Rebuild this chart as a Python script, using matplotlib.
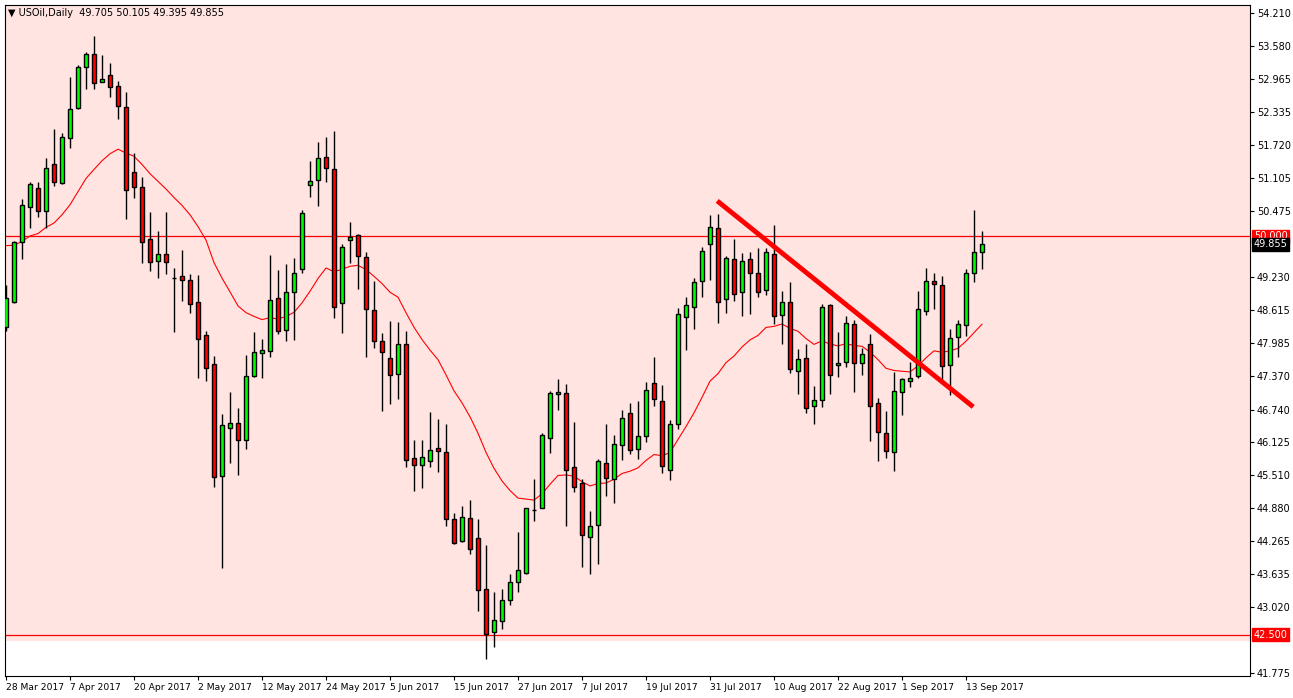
import matplotlib
matplotlib.use("Agg")
import matplotlib.pyplot as plt
import matplotlib.transforms as mtransforms
import numpy as np
import pandas as pd

# -----------------------------
# Daily USOil OHLC, 28 Mar 2017 .. 15 Sep 2017
# -----------------------------
OPENS = [48.29, 48.77, 49.90, 50.56, 50.91, 50.48, 51.37, 51.01, 51.85, 52.42,
         53.19, 53.44, 52.91, 53.04, 52.83, 52.44, 51.21, 50.93, 49.95, 49.54,
         49.67, 49.21, 49.25, 49.18, 48.77, 48.14, 47.60, 45.49, 46.39, 46.49,
         46.17, 47.37, 47.80, 47.84, 48.84, 48.24, 48.95, 49.39, 50.97, 51.06,
         51.50, 51.27, 48.75, 49.93, 50.03, 49.61, 48.61, 48.03, 47.71, 47.41,
         47.97, 45.83, 45.69, 45.77, 46.02, 45.94, 44.68, 44.27, 44.70, 44.32,
         43.36, 42.55, 42.75, 43.15, 43.49, 43.66, 44.85, 44.88, 46.20, 47.03,
         47.05, 45.66, 45.36, 44.34, 44.56, 45.73, 45.43, 46.07, 46.67, 46.00,
         46.24, 47.24, 46.90, 45.60, 46.47, 48.48, 48.67, 49.16, 49.86, 50.16,
         48.82, 49.58, 48.95, 49.58, 49.31, 48.99, 49.67, 48.52, 48.77, 47.46,
         47.71, 46.80, 46.92, 48.71, 47.58, 47.64, 48.35, 47.62, 47.97, 46.86,
         46.30, 45.94, 47.07, 47.28, 47.37, 48.60, 49.16, 49.09, 47.58, 48.11,
         48.33, 49.31, 49.705]
HIGHS = [49.09, 49.92, 50.71, 51.03, 51.03, 51.48, 52.02, 51.95, 53.00, 53.23,
         53.48, 53.78, 53.42, 53.27, 52.93, 52.72, 51.57, 51.12, 50.46, 50.10,
         50.46, 49.41, 49.74, 49.29, 49.27, 48.22, 47.75, 46.65, 47.07, 46.77,
         47.77, 48.20, 48.07, 49.65, 49.37, 49.48, 49.59, 50.50, 51.42, 51.78,
         51.87, 51.99, 49.86, 50.27, 50.05, 49.71, 49.16, 48.18, 48.41, 48.39,
         48.22, 46.17, 46.17, 46.69, 46.56, 46.47, 44.79, 44.92, 45.03, 44.68,
         44.19, 43.30, 43.35, 43.64, 44.43, 44.88, 45.43, 46.30, 47.09, 47.31,
         47.22, 46.50, 45.43, 44.83, 45.81, 46.47, 46.26, 46.73, 46.86, 46.90,
         47.26, 47.73, 47.20, 46.54, 48.65, 48.86, 49.22, 49.80, 50.40, 50.42,
         49.63, 49.95, 49.69, 49.71, 49.78, 49.78, 50.21, 48.97, 49.14, 47.88,
         47.97, 47.18, 48.73, 48.73, 48.20, 48.50, 48.43, 47.90, 48.16, 46.96,
         46.71, 47.45, 47.33, 47.63, 48.97, 49.41, 49.31, 49.25, 48.26, 48.43,
         49.39, 50.50, 50.105]
LOWS = [48.22, 48.75, 49.58, 50.16, 50.37, 50.16, 50.95, 50.99, 51.67, 52.40,
        52.78, 52.78, 52.91, 52.63, 52.21, 50.33, 50.72, 49.50, 49.35, 49.21,
        49.29, 48.20, 48.78, 48.56, 47.33, 47.28, 45.28, 43.75, 45.73, 45.51,
        46.00, 47.35, 47.33, 47.73, 48.16, 48.03, 48.05, 49.31, 50.74, 50.57,
        51.03, 48.46, 48.18, 49.50, 49.01, 47.73, 47.90, 46.71, 46.84, 46.94,
        45.66, 45.20, 45.26, 45.66, 45.56, 44.55, 44.20, 44.25, 44.02, 42.94,
        42.04, 42.27, 42.60, 43.05, 43.30, 43.64, 44.64, 44.88, 45.92, 46.73,
        44.55, 45.19, 43.77, 43.64, 43.83, 45.11, 44.98, 45.79, 45.90, 45.81,
        46.13, 46.81, 45.54, 45.41, 46.37, 47.86, 48.26, 48.86, 49.18, 48.37,
        48.56, 48.78, 48.50, 48.54, 48.86, 48.90, 48.35, 47.97, 47.43, 47.03,
        46.67, 46.47, 46.79, 47.03, 47.35, 47.54, 47.07, 47.39, 46.15, 45.77,
        45.83, 45.58, 46.64, 47.16, 47.33, 48.52, 48.63, 47.26, 47.01, 47.73,
        48.12, 49.14, 49.395]
CLOSES = [48.84, 49.90, 50.59, 50.99, 50.48, 51.29, 51.03, 51.87, 52.40, 53.19,
          53.44, 52.89, 52.97, 52.82, 52.46, 50.88, 50.93, 49.90, 49.52, 49.67,
          49.52, 49.21, 49.18, 48.73, 48.07, 47.52, 45.47, 46.45, 46.49, 46.17,
          47.37, 47.82, 47.86, 48.80, 48.22, 48.95, 49.31, 50.44, 51.05, 51.48,
          51.29, 48.67, 49.80, 49.99, 49.63, 48.63, 48.03, 47.82, 47.39, 47.97,
          45.79, 45.69, 45.85, 45.98, 45.96, 44.68, 44.23, 44.72, 44.11, 43.34,
          42.51, 42.77, 43.15, 43.49, 43.72, 44.88, 44.85, 46.26, 47.05, 47.07,
          45.60, 45.28, 44.38, 44.55, 45.77, 45.45, 46.09, 46.58, 45.98, 46.24,
          47.11, 46.94, 45.68, 46.47, 48.54, 48.71, 49.14, 49.73, 50.18, 48.77,
          49.59, 48.92, 49.54, 49.31, 48.95, 49.71, 48.50, 48.77, 47.50, 47.69,
          46.77, 46.92, 48.67, 47.39, 47.62, 48.37, 47.62, 47.79, 46.80, 46.32,
          45.96, 47.09, 47.32, 47.33, 48.63, 49.16, 49.10, 47.56, 48.09, 48.35,
          49.31, 49.71, 49.855]
# closes before 28 Mar, only needed to warm up the moving average
PRE_CLOSES = [49.5, 49.3, 49.4, 49.5, 49.4, 49.3, 49.4, 49.3, 49.4, 49.4,
              50.8, 51.0, 51.1, 50.9]
MA_SPAN = 20

DATE_LABELS = ["28 Mar 2017", "7 Apr 2017", "20 Apr 2017", "2 May 2017", "12 May 2017",
               "24 May 2017", "5 Jun 2017", "15 Jun 2017", "27 Jun 2017", "7 Jul 2017",
               "19 Jul 2017", "31 Jul 2017", "10 Aug 2017", "22 Aug 2017", "1 Sep 2017",
               "13 Sep 2017"]
DATE_BARS = [0, 8, 16, 24, 32, 40, 48, 56, 64, 72, 80, 88, 96, 104, 112, 120]

PRICE_TICKS = [54.210, 53.580, 52.965, 52.335, 51.720, 51.105, 50.475, 49.230,
               48.615, 47.985, 47.370, 46.740, 46.125, 45.510, 44.880, 44.265,
               43.635, 43.020, 41.775]
LEVELS = [50.000, 42.500]
ZONE_BOTTOM = 42.38
TREND_X = [88.9, 120.9]
TREND_Y = [50.67, 46.79]

PINK = "#FFE4E1"
UP = "#00FF00"
DOWN = "#FF0000"

o = np.array(OPENS); h = np.array(HIGHS); l = np.array(LOWS); c = np.array(CLOSES)
n = len(c)
idx = np.arange(n)
allc = pd.Series(np.concatenate([PRE_CLOSES, c]))
ma = allc.ewm(span=MA_SPAN, adjust=False).mean().to_numpy()[len(PRE_CLOSES):]

fig = plt.figure(figsize=(12.93, 6.98), dpi=100)
ax = fig.add_axes([5 / 1293, 1 - 676 / 698, 1245 / 1293, 671 / 698])
ax.set_xlim(-0.125, 155.5)
ax.set_ylim(41.72, 54.36)
ax.axhspan(ZONE_BOTTOM, 60, color=PINK, zorder=0, lw=0)

ax.plot(idx, ma, color="red", lw=0.8, zorder=2)
for lv in LEVELS:
    ax.axhline(lv, color="red", lw=0.9, zorder=1)

ax.vlines(idx, l, h, color="black", lw=1.0, zorder=3)
up = c >= o
bottoms = np.minimum(o, c)
heights = np.abs(c - o)
ax.bar(idx, heights, 0.62, bottom=bottoms, color=np.where(up, UP, DOWN),
       edgecolor="black", linewidth=1.0, zorder=4)

ax.plot(TREND_X, TREND_Y, color="red", lw=3.5, solid_capstyle="butt", zorder=5)

# axes cosmetics
ax.yaxis.tick_right()
ax.set_yticks(PRICE_TICKS)
ax.set_yticklabels([f"{v:.3f}" for v in PRICE_TICKS])
ax.set_xticks(DATE_BARS)
ax.set_xticklabels(DATE_LABELS, ha="left")
ax.tick_params(axis="both", labelsize=7, length=3, width=0.8, direction="out", pad=2)
ax.tick_params(axis="x", labelsize=6.6)
for s in ax.spines.values():
    s.set_linewidth(0.8)

trans = mtransforms.blended_transform_factory(ax.transAxes, ax.transData)
for lv, bg in [(LEVELS[0], "red"), (LEVELS[1], "red"), (c[-1], "black")]:
    ax.text(1.003, lv, f"{lv:.3f}", transform=trans, fontsize=7, color="white",
            va="center", ha="left",
            bbox=dict(boxstyle="square,pad=0.15", fc=bg, ec=bg))

fig.text(8 / 1293, 1 - 13 / 698,
         f"\u25bc USOil,Daily  {o[-1]:.3f} {h[-1]:.3f} {l[-1]:.3f} {c[-1]:.3f}",
         fontsize=7, va="center", ha="left")

fig.savefig("out.png", dpi=100)
